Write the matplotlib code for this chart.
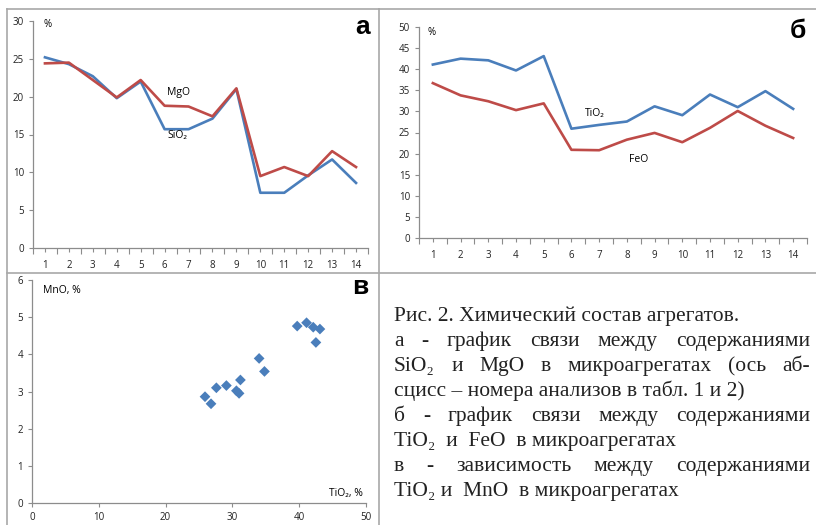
import matplotlib.pyplot as plt
from matplotlib.lines import Line2D
from matplotlib.ticker import FixedLocator

# ----------------------------
# Data
# ----------------------------
samples = list(range(1, 15))
sio2 = [25.2, 24.3, 22.7, 19.8, 22.0, 15.7, 15.7, 17.1, 21.0, 7.3, 7.3, 9.6, 11.7, 8.6]
mgo = [24.4, 24.5, 22.2, 19.9, 22.2, 18.8, 18.7, 17.4, 21.1, 9.5, 10.7, 9.5, 12.8, 10.7]
tio2 = [41.1, 42.5, 42.1, 39.7, 43.1, 25.9, 26.8, 27.6, 31.2, 29.1, 34.0, 31.0, 34.8, 30.6]
feo = [36.7, 33.8, 32.4, 30.3, 31.9, 20.9, 20.8, 23.3, 24.9, 22.7, 26.1, 30.1, 26.6, 23.7]
mno = [4.85, 4.32, 4.73, 4.76, 4.68, 2.86, 2.67, 3.10, 3.31, 3.16, 3.89, 2.95, 3.54, 3.02]

caption = [
    ("Рис. 2. Химический состав агрегатов.", False),
    ("а - график связи между содержаниями", True),
    ("SiO₂ и MgO в микроагрегатах (ось аб-", True),
    ("сцисс – номера анализов в табл. 1 и 2)", False),
    ("б - график связи между содержаниями", True),
    ("TiO₂  и  FeO  в микроагрегатах", False),
    ("в - зависимость между содержаниями", True),
    ("TiO₂ и  MnO  в микроагрегатах", False),
]

BLUE = "#4A7EBB"
RED = "#BE4B48"
AXIS = "#8C8C8C"
SANS = ["Open Sans", "DejaVu Sans"]
SERIF = ["Liberation Serif", "DejaVu Serif"]

W, H = 816, 525
fig = plt.figure(figsize=(W / 100, H / 100), dpi=100)


def px_axes(left, top, right, bottom):
    """add axes from pixel box (origin top-left)"""
    return fig.add_axes([left / W, 1 - bottom / H, (right - left) / W, (bottom - top) / H])


def style(ax):
    for s in ("top", "right"):
        ax.spines[s].set_visible(False)
    for s in ("left", "bottom"):
        ax.spines[s].set_color(AXIS)
        ax.spines[s].set_linewidth(0.9)
    ax.tick_params(colors=AXIS, labelcolor="#222222", labelsize=7, length=3, width=0.8)
    for lab in ax.get_xticklabels() + ax.get_yticklabels():
        lab.set_family(SANS)


def category_axis(ax):
    ax.set_xlim(0.5, 14.5)
    ax.set_xticks(samples)
    ax.set_xticklabels([str(s) for s in samples])
    ax.xaxis.set_minor_locator(FixedLocator([i + 0.5 for i in range(0, 15)]))
    ax.tick_params(axis="x", which="major", length=0, pad=6)
    ax.tick_params(axis="x", which="minor", length=4, color=AXIS, width=0.8)


# ----------------------------
# Panel borders
# ----------------------------
def border(x0, y0, x1, y1):
    fig.add_artist(Line2D([x0 / W, x1 / W], [1 - y0 / H, 1 - y1 / H],
                          transform=fig.transFigure, color="#A8A8A8", lw=1.2))


border(7, 9, 7, H)
border(7, 9, 379, 9)
border(379, 9, 379, H)
border(379, 9, W, 9)
border(7, 273, W, 273)

# ----------------------------
# Panel a: SiO2 & MgO
# ----------------------------
ax1 = px_axes(33, 21, 368, 248)
ax1.plot(samples, sio2, color=BLUE, lw=1.9)
ax1.plot(samples, mgo, color=RED, lw=1.9)
ax1.set_ylim(0, 30)
ax1.set_yticks(range(0, 31, 5))
category_axis(ax1)
style(ax1)
ax1.text(0.92, 29.5, "%", fontsize=7, family=SANS, va="center")
ax1.text(6.56, 20.5, "MgO", fontsize=7.5, family=SANS, ha="center", va="center")
ax1.text(6.52, 14.9, "SiO₂", fontsize=7.5, family=SANS, ha="center", va="center")
fig.text(370 / W, 1 - 27 / H, "а", fontsize=19, fontweight="bold",
         family=["Liberation Sans", "DejaVu Sans"], ha="right", va="center")

# ----------------------------
# Panel б: TiO2 & FeO
# ----------------------------
ax2 = px_axes(419, 27, 807, 238)
ax2.plot(samples, tio2, color=BLUE, lw=1.9)
ax2.plot(samples, feo, color=RED, lw=1.9)
ax2.set_ylim(0, 50)
ax2.set_yticks(range(0, 51, 5))
category_axis(ax2)
style(ax2)
ax2.text(0.79, 48.6, "%", fontsize=7, family=SANS, va="center")
ax2.text(6.85, 29.6, "TiO₂", fontsize=7.5, family=SANS, ha="center", va="center")
ax2.text(8.44, 18.7, "FeO", fontsize=7.5, family=SANS, ha="center", va="center")
fig.text(806 / W, 1 - 31 / H, "б", fontsize=19, fontweight="bold",
         family=["Liberation Sans", "DejaVu Sans"], ha="right", va="center")

# ----------------------------
# Panel в: MnO vs TiO2
# ----------------------------
ax3 = px_axes(32, 280, 366, 503)
ax3.scatter(tio2, mno, marker="D", s=30, color=BLUE, edgecolors="none")
ax3.set_xlim(0, 50)
ax3.set_ylim(0, 6)
ax3.set_xticks(range(0, 51, 10))
ax3.set_yticks(range(0, 7))
style(ax3)
ax3.text(1.6, 5.73, "MnO, %", fontsize=7.5, family=SANS, va="center")
ax3.text(49.6, 0.12, "TiO₂, %", fontsize=7.5, family=SANS, ha="right", va="bottom")
fig.text(368 / W, 1 - 287 / H, "в", fontsize=19, fontweight="bold",
         family=["Liberation Sans", "DejaVu Sans"], ha="right", va="center")

# ----------------------------
# Caption (justified lines)
# ----------------------------
renderer = fig.canvas.get_renderer()
x_left, x_right = 394, 810
baseline = 321
for line, justify in caption:
    y = 1 - baseline / H
    if not justify:
        fig.text(x_left / W, y, line, fontsize=15.5, family=SERIF, va="baseline", color="#222222")
    else:
        words = line.split()
        objs = [fig.text(0, y, w, fontsize=15.5, family=SERIF, va="baseline", color="#222222")
                for w in words]
        widths = [o.get_window_extent(renderer=renderer).width for o in objs]
        gap = (x_right - x_left - sum(widths)) / (len(words) - 1)
        x = x_left
        for o, wd in zip(objs, widths):
            o.set_x(x / W)
            x += wd + gap
    baseline += 25

fig.savefig("out.png", dpi=100)
